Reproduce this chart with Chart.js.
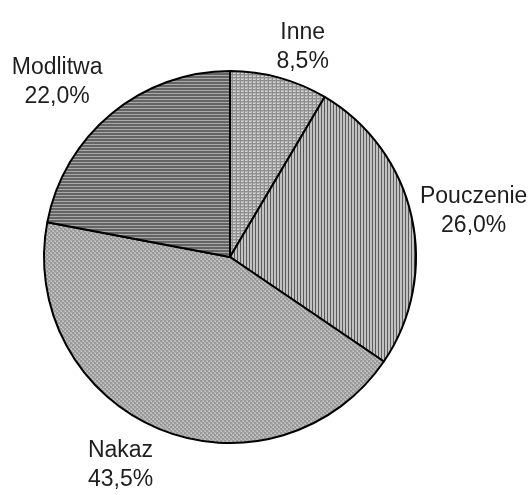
<!DOCTYPE html>
<html>
<head>
<meta charset="utf-8">
<script src="https://cdn.jsdelivr.net/npm/chart.js@4/dist/chart.umd.min.js"></script>
<style>
  html, body { margin: 0; padding: 0; background: #fff; }
  #wrap { width: 532px; height: 495px; }
</style>
</head>
<body>
<div id="wrap"><canvas id="pieChart" width="532" height="495"></canvas></div>
<script>
// Slice names and shares (%), clockwise from 12 o'clock
const categories = ["Inne", "Pouczenie", "Nakaz", "Modlitwa"];
const shares = [8.5, 26.0, 43.5, 22.0];

// Build a small repeating texture for each slice (grayscale, like the print)
function makePattern(w, h, painter) {
    const c = document.createElement("canvas");
    c.width = w;
    c.height = h;
    const g = c.getContext("2d");
    painter(g);
    return g.createPattern(c, "repeat");
}

const ctx0 = document.getElementById("pieChart").getContext("2d");

// Inne: light grid texture
const patInne = makePattern(4, 3, g => {
    g.fillStyle = "#b4b4b4"; g.fillRect(0, 0, 4, 3);
    g.fillStyle = "#d6d6d6"; g.fillRect(1, 1, 2, 1);
    g.fillStyle = "#8e8e8e"; g.fillRect(0, 0, 1, 3); g.fillRect(0, 2, 4, 1);
});
// Pouczenie: vertical stripes
const patPouczenie = makePattern(3, 1, g => {
    g.fillStyle = "#c2c2c2"; g.fillRect(0, 0, 3, 1);
    g.fillStyle = "#5a5a5a"; g.fillRect(0, 0, 1, 1);
});
// Nakaz: fine checker
const patNakaz = makePattern(4, 4, g => {
    g.fillStyle = "#b2b2b2"; g.fillRect(0, 0, 4, 4);
    g.fillStyle = "#9a9a9a"; g.fillRect(0, 0, 2, 2); g.fillRect(2, 2, 2, 2);
    g.fillStyle = "#cccccc"; g.fillRect(1, 3, 1, 1); g.fillRect(3, 1, 1, 1);
});
// Modlitwa: dark with horizontal lines
const patModlitwa = makePattern(1, 3, g => {
    g.fillStyle = "#646464"; g.fillRect(0, 0, 1, 3);
    g.fillStyle = "#a8a8a8"; g.fillRect(0, 0, 1, 1);
});

// Outside labels: name on top, percentage below
const outsideLabels = {
    id: "outsideLabels",
    afterDatasetsDraw(chart, args, opts) {
        const ctx = chart.ctx;
        const meta = chart.getDatasetMeta(0);
        ctx.save();
        ctx.font = opts.font;
        ctx.fillStyle = opts.color;
        ctx.textAlign = "center";
        ctx.textBaseline = "alphabetic";
        meta.data.forEach((arc, i) => {
            const mid = (arc.startAngle + arc.endAngle) / 2;
            const ux = Math.cos(mid), uy = Math.sin(mid);
            const line1 = categories[i];
            const line2 = shares[i].toFixed(1).replace(".", ",") + "%";
            const w = Math.max(ctx.measureText(line1).width, ctx.measureText(line2).width);
            const h = 47;
            const ax = arc.x + (arc.outerRadius + opts.gap) * ux;
            const ay = arc.y + (arc.outerRadius + opts.gap) * uy;
            const nudge = opts.nudge[i] || [0, 0];
            const cx = ax + (w / 2) * ux + nudge[0];
            const cy = ay + (h / 2) * uy + nudge[1];
            ctx.fillText(line1, cx, cy - 6.5);
            ctx.fillText(line2, cx, cy + 22.5);
        });
        ctx.restore();
    }
};

new Chart("pieChart", {
    type: "pie",
    data: {
        labels: categories,
        datasets: [{
            data: shares,
            backgroundColor: [patInne, patPouczenie, patNakaz, patModlitwa],
            borderColor: "#000",
            borderWidth: 2
        }]
    },
    options: {
        responsive: false,
        animation: false,
        radius: 186,
        layout: {
            padding: { left: 10, right: 82, top: 29, bottom: 10 }
        },
        plugins: {
            legend: { display: false },
            tooltip: { enabled: false },
            outsideLabels: {
                font: '23px "Liberation Sans", Arial, sans-serif',
                color: "#1e1e1e",
                gap: 10,
                nudge: [[14, 0], [0, 0], [-22, 4], [-19, -7]]
            }
        }
    },
    plugins: [outsideLabels]
});
</script>
</body>
</html>
